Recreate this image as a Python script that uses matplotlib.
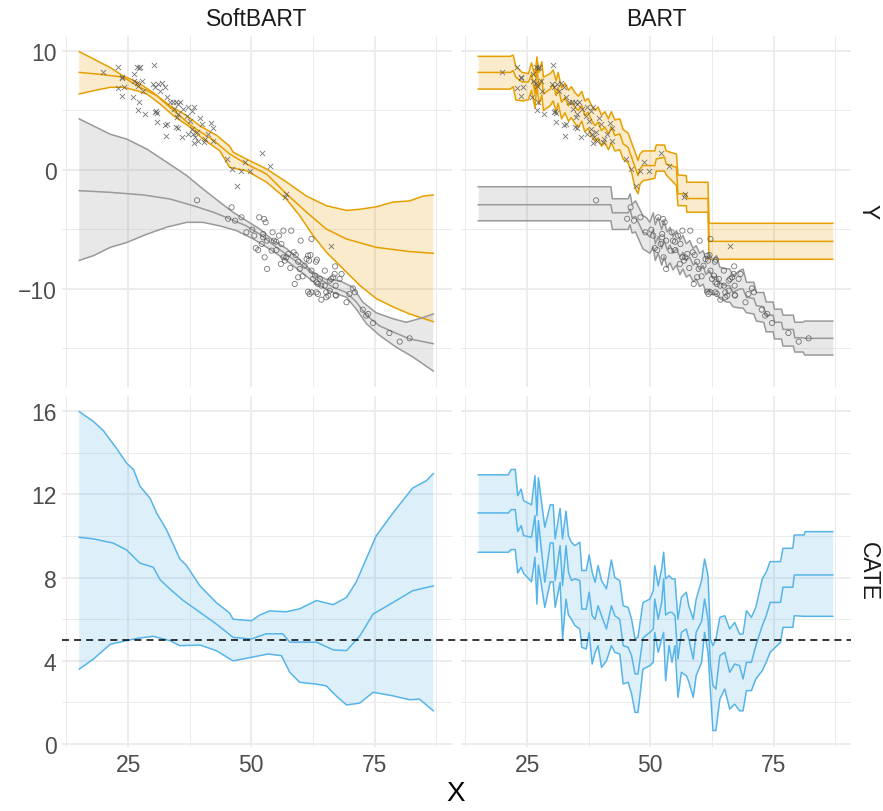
import matplotlib.pyplot as plt
from matplotlib.ticker import MultipleLocator
import numpy as np

plt.rcParams['font.family'] = ['Liberation Sans', 'DejaVu Sans']

# ---- observed outcomes ----
treat_x = [20.0, 22.9, 23.7, 23.85, 23.0, 24.1, 23.85, 26.3, 26.8, 27.2, 27.4, 26.3, 26.8, 27.1,
           27.8, 28.1, 26.1, 27.2, 27.1, 28.4, 30.3, 30.0, 30.5, 31.1, 31.8, 32.5, 31.5, 32.8,
           30.7, 30.5, 30.9, 30.8, 32.8, 32.5, 32.7, 33.5, 34.2, 34.7, 35.2, 35.5, 34.3, 35.2,
           34.9, 34.7, 35.2, 35.9, 37.2, 38.4, 37.9, 37.6, 37.2, 37.9, 38.2, 38.6, 39.6, 39.9,
           41.9, 42.3, 39.2, 38.4, 40.3, 40.6, 42.3, 41.3, 45.0, 46.0, 52.1, 53.7, 48.7, 48.0,
           49.7, 47.0, 36.9, 36.2, 38.9, 57.1, 56.8, 66.2]
treat_y = [8.21, 8.69, 7.84, 7.7, 6.86, 6.95, 6.25, 8.07, 8.69, 8.57, 8.63, 7.45, 7.28, 7.09,
           7.45, 6.67, 6.16, 5.69, 5.07, 4.71, 8.85, 7.23, 6.95, 7.23, 7.28, 6.95, 6.67, 6.11,
           4.99, 4.85, 4.76, 4.06, 3.87, 3.78, 2.89, 5.69, 5.69, 5.69, 5.55, 5.69, 5.13, 4.71,
           4.43, 3.59, 3.5, 2.75, 5.32, 5.32, 4.99, 4.15, 3.03, 3.45, 3.03, 2.75, 4.37, 3.87,
           3.95, 3.53, 2.47, 2.24, 2.33, 2.61, 2.47, 3.03, 0.93, 0.09, 1.4, 0.31, 0.65, -0.05,
           -0.05, -1.37, 4.57, 5.13, 3.17, -2.0, -2.3, -6.4]

ctrl_x = [39.0, 45.3, 46.0, 46.7, 48.0, 49.0, 50.2, 50.6, 50.9, 51.4, 51.6, 52.4, 52.6, 52.9,
          52.1, 52.7, 53.2, 52.4, 53.2, 54.1, 54.3, 54.6, 55.0, 55.1, 55.6, 56.1, 56.5, 56.5,
          56.0, 56.8, 57.1, 57.5, 57.9, 58.1, 58.6, 59.0, 59.5, 60.0, 59.8, 60.4, 60.8, 61.2,
          61.5, 61.7, 62.0, 62.2, 62.5, 62.9, 63.1, 63.3, 63.2, 63.5, 63.9, 64.2, 64.9, 64.9,
          65.2, 65.6, 65.9, 65.9, 66.2, 66.6, 66.9, 67.1, 67.2, 67.9, 68.3, 69.3, 69.9, 70.6,
          71.0, 72.6, 73.3, 73.7, 74.7, 61.5, 61.8, 62.2, 63.2, 63.5, 64.2, 65.2, 58.8, 59.5,
          62.2, 67.1, 78.0, 80.1, 82.1, 67.0]
ctrl_y = [-2.55, -4.1, -3.14, -4.26, -3.98, -5.24, -5.02, -5.52, -6.56, -6.73, -3.98, -5.66,
          -4.12, -4.4, -6.22, -7.34, -8.32, -5.38, -5.94, -6.78, -5.24, -5.94, -6.03, -6.73,
          -5.52, -6.22, -5.1, -7.34, -7.9, -7.62, -7.34, -7.06, -8.24, -5.1, -6.92, -7.15,
          -7.71, -5.94, -8.32, -8.94, -8.04, -7.48, -7.2, -7.62, -7.15, -8.46, -9.16, -8.88,
          -7.71, -7.54, -9.44, -9.58, -9.16, -9.72, -9.72, -8.46, -10.28, -10.56, -10.14, -9.3,
          -9.16, -9.02, -8.74, -9.72, -10.56, -9.16, -8.74, -11.12, -10.42, -9.95, -10.28,
          -11.74, -12.24, -12.1, -12.86, -10.23, -10.42, -10.28, -10.28, -10.42, -10.9, -10.7,
          -9.58, -9.02, -5.8, -10.5, -13.7, -14.43, -14.15, -8.1]

# ---- SoftBART fits ----
sb_t_hi_x = [15.1, 18, 21.4, 24, 26.8, 30.1, 33.5, 36.9, 39.6, 43, 45.6, 46.3, 49, 53.1, 57.1,
             61.2, 65.2, 69.3, 72, 75.3, 78.7, 82.1, 84.8, 86.9]
sb_t_hi = [9.94, 9.33, 8.6, 7.9, 7.4, 6.5, 5.4, 4.56, 3.7, 2.9, 2.0, 1.5, 0.92, 0.08, -1.0,
           -2.2, -3.0, -3.4, -3.3, -3.1, -2.7, -2.6, -2.2, -2.1]
sb_t_mid_x = [15.1, 19.3, 24, 27.4, 30.8, 34.2, 38.2, 42.3, 45.6, 49, 53.1, 57.1, 61.2, 65.2,
              69.3, 75.3, 82.1, 86.9]
sb_t_mid = [8.2, 8.04, 7.8, 6.95, 6.25, 5.0, 3.6, 2.5, 1.35, 0.5, -0.34, -2.0, -3.55, -4.96,
            -5.8, -6.5, -6.86, -7.0]
sb_t_lo_x = [15.1, 18, 21.4, 24, 26.8, 28.8, 31.5, 34.2, 37.6, 40.2, 43.6, 45.6, 49, 53.1,
             57.1, 59.8, 62.5, 65.2, 68.6, 72, 75.3, 78.7, 82.1, 86.9]
sb_t_lo = [6.39, 6.66, 6.95, 6.95, 6.66, 6.39, 5.55, 4.56, 3.59, 2.6, 1.62, 0.22, -0.06, -1.03,
           -2.44, -3.84, -5.5, -6.9, -8.3, -9.7, -10.8, -11.5, -12.1, -12.75]

sb_c_hi_x = [15.1, 18, 21.4, 24.7, 28.8, 32.9, 36.9, 40.2, 43.6, 46.3, 49, 51.7, 54.4, 57.1,
             59.8, 62.5, 65.2, 67.9, 70.6, 72.6, 75.3, 78.7, 81.4, 84.1, 86.9]
sb_c_hi = [4.29, 3.7, 3.0, 2.6, 1.76, 0.64, -0.47, -1.6, -2.7, -3.55, -4.26, -4.96, -5.9, -6.6,
           -7.5, -8.6, -9.2, -9.3, -9.86, -11.1, -12.0, -12.5, -12.8, -12.5, -12.1]
sb_c_mid_x = [15.1, 21.4, 28.1, 33.5, 38.2, 42.3, 45.6, 49, 51.7, 55.1, 58.5, 61.2, 63.9, 66.6,
              69.3, 71.3, 73.3, 76, 78.7, 82.1, 86.9]
sb_c_mid = [-1.74, -1.88, -2.1, -2.44, -3.0, -3.55, -4.1, -4.7, -5.4, -6.5, -7.5, -8.3, -9.16,
            -9.86, -10.3, -11.1, -12.2, -13.1, -13.6, -14.2, -14.6]
sb_c_lo_x = [15.1, 18, 21.4, 24.7, 28.8, 32.9, 36.9, 40.2, 43.6, 47, 50.4, 53.7, 57.1, 60.5,
             63.2, 66.6, 69.3, 71.3, 73.3, 76, 79.4, 82.7, 86.9]
sb_c_lo = [-7.6, -7.2, -6.5, -6.1, -5.4, -4.8, -4.4, -4.4, -4.7, -5.1, -5.8, -6.64, -7.6, -8.7,
           -9.6, -10.3, -10.7, -11.7, -12.9, -13.9, -14.9, -15.7, -16.9]

sb_cate_hi_x = [15.1, 18, 20, 22.7, 24.7, 26.1, 27.4, 29.5, 30.8, 32.8, 35.5, 36.8, 39.6, 42.9,
                45.6, 46.3, 50, 51.7, 53.7, 57.1, 59.8, 63.2, 66.6, 69.3, 71.3, 73.3, 75.3,
                78.7, 82.7, 85.5, 86.9]
sb_cate_hi = [15.98, 15.5, 15.06, 14.2, 13.5, 13.2, 12.4, 11.8, 11.1, 10.3, 8.9, 8.6, 7.6, 6.8,
              6.3, 6.0, 5.93, 6.2, 6.4, 6.36, 6.5, 6.9, 6.7, 7.05, 7.8, 8.9, 10.0, 11.1, 12.3,
              12.66, 13.0]
sb_cate_mid_x = [15.1, 18, 22, 24.7, 27.4, 30.1, 31.5, 33.5, 36.2, 39.6, 42.9, 46.3, 50, 53,
                 56.4, 57.8, 63.2, 66.6, 69.3, 72, 74.7, 78.7, 82.7, 86.9]
sb_cate_mid = [9.94, 9.86, 9.66, 9.33, 8.7, 8.5, 7.9, 7.45, 6.9, 6.33, 5.77, 5.13, 5.05, 5.3,
               5.3, 4.9, 4.9, 4.53, 4.49, 5.2, 6.25, 6.8, 7.37, 7.6]
sb_cate_lo_x = [15.1, 18, 21.4, 24.7, 26.8, 30.1, 33.5, 35.5, 39.6, 42.9, 46.3, 50, 53.4, 56.1,
                57.8, 59.8, 63.2, 65.2, 67.2, 69.3, 72, 74.7, 78.7, 82.1, 84.1, 86.9]
sb_cate_lo = [3.6, 4.09, 4.8, 4.97, 5.08, 5.18, 4.97, 4.73, 4.76, 4.49, 4.0, 4.17, 4.33, 4.25,
              3.45, 2.97, 2.88, 2.8, 2.32, 1.88, 1.97, 2.49, 2.32, 2.13, 2.16, 1.6]

# ---- BART fits ----
bt_x = [15.1, 21.6, 22.2, 22.7, 24.0, 25.3, 25.9, 26.6, 27.0, 27.4, 28.0, 28.3, 29.7, 30.3,
        30.9, 31.3, 32.0, 32.7, 33.4, 34.0, 34.7, 35.4, 36.1, 36.7, 37.4, 38.1, 38.8, 39.4,
        40.1, 40.8, 41.5, 42.1, 42.8, 43.8, 44.5, 45.5, 46.2, 46.9, 47.5, 47.9, 48.5, 50.9,
        51.2, 52.9, 53.2, 55.3, 55.6, 57.3, 57.4, 61.7, 61.9, 87.0]
bt_hi = [9.55, 9.55, 9.65, 8.7, 8.2, 8.1, 9.0, 7.9, 9.5, 8.2, 9.1, 7.8, 8.1, 8.4, 7.5, 8.2, 6.9,
         7.3, 6.7, 7.0, 6.5, 6.2, 6.6, 5.8, 6.0, 5.4, 5.0, 5.3, 4.6, 4.9, 4.3, 4.9, 4.2, 4.3,
         3.4, 3.1, 2.3, 1.5, 0.8, 1.34, 1.6, 1.6, 2.1, 2.1, 1.6, 1.34, -0.42, -0.48, -1.03,
         -1.03, -4.48, -4.48]
bt_mid = [8.2, 8.2, 8.35, 7.8, 7.4, 7.4, 8.07, 6.4, 8.6, 6.95, 7.65, 6.4, 6.8, 7.2, 6.25, 6.95,
          5.7, 6.1, 5.4, 5.7, 5.27, 5.0, 5.4, 4.57, 4.85, 4.15, 3.73, 4.0, 3.3, 3.6, 3.03, 3.6,
          2.9, 3.03, 2.19, 1.9, 1.07, 0.23, -0.47, 0.09, 0.37, 0.37, 0.93, 1.07, 0.5, 0.22,
          -2.0, -2.0, -2.4, -2.4, -6.0, -6.0]
bt_lo = [6.8, 6.8, 7.0, 5.9, 5.8, 5.9, 6.7, 5.2, 7.2, 5.5, 6.3, 5.0, 5.4, 5.8, 4.9, 5.6, 4.3,
         4.8, 4.1, 4.4, 3.9, 3.6, 4.1, 3.2, 3.5, 2.8, 2.4, 2.7, 2.0, 2.3, 1.7, 2.3, 1.6, 1.7,
         0.9, 0.6, -0.2, -1.5, -2.0, -1.2, -0.9, -0.7, -0.1, -0.1, -0.4, -1.3, -3.0, -3.0,
         -3.55, -3.55, -7.5, -7.5]

bc_x = [15.1, 42.0, 42.3, 45.5, 45.9, 46.3, 47.0, 48.5, 49.2, 49.9, 50.6, 51.0, 51.6, 52.3,
        52.8, 53.4, 54.0, 54.6, 55.3, 56.0, 56.6, 57.3, 58.0, 58.7, 59.3, 60.0, 60.7, 61.3,
        62.0, 62.7, 63.4, 64.1, 65.4, 66.1, 66.8, 68.1, 68.8, 69.5, 71.0, 71.5, 73.0, 73.5,
        74.9, 75.2, 76.6, 76.9, 79.0, 79.3, 81.0, 81.3, 87.0]
bc_hi = [-1.41, -1.41, -2.42, -2.42, -2.0, -2.9, -2.6, -3.84, -4.0, -4.4, -3.6, -4.6, -4.0,
         -5.0, -4.3, -5.2, -4.82, -5.6, -5.1, -5.9, -5.5, -6.2, -5.94, -6.6, -6.36, -7.0,
         -6.78, -7.5, -7.06, -7.62, -7.2, -8.18, -8.3, -8.32, -8.88, -8.46, -8.32, -9.44,
         -9.44, -10.3, -10.3, -11.1, -11.1, -11.7, -11.7, -12.2, -12.2, -12.8, -12.8, -12.7,
         -12.7]
bc_mid = [-2.92, -2.92, -3.6, -3.6, -3.3, -4.0, -3.9, -5.24, -5.3, -5.66, -5.0, -6.2, -5.6,
          -6.6, -5.9, -6.7, -6.3, -7.0, -6.6, -7.3, -6.92, -7.6, -7.34, -8.0, -7.76, -8.4,
          -8.04, -8.8, -8.46, -9.1, -8.9, -9.5, -9.72, -9.72, -10.28, -10.0, -10.0, -10.7,
          -10.8, -11.4, -11.5, -12.2, -12.2, -12.8, -12.8, -13.4, -13.4, -14.1, -14.1, -14.15,
          -14.15]
bc_lo = [-4.27, -4.27, -5.0, -5.0, -4.6, -5.3, -5.2, -6.64, -6.8, -7.0, -6.5, -7.6, -7.0, -8.0,
         -7.3, -8.2, -7.8, -8.4, -8.0, -8.8, -8.32, -9.0, -8.8, -9.4, -9.16, -9.8, -9.6, -10.3,
         -10.0, -10.5, -10.4, -10.8, -11.1, -11.1, -11.5, -11.6, -11.6, -12.0, -12.1, -12.7,
         -12.8, -13.6, -13.6, -14.2, -14.2, -14.8, -14.8, -15.3, -15.3, -15.55, -15.55]

bcate_x = [15.1, 21.2, 21.8, 22.6, 23.1, 23.8, 24.3, 25.9, 26.6, 27.0, 27.3, 28.6, 29.7, 30.3,
           30.7, 31.7, 32.2, 32.9, 33.4, 34.0, 34.7, 35.7, 36.1, 37.0, 37.6, 38.2, 38.8, 39.4,
           40.1, 41.1, 42.1, 42.8, 43.8, 44.5, 45.5, 46.2, 46.9, 47.5, 48.5, 49.9, 50.6, 50.9,
           51.6, 52.3, 52.7, 53.1, 53.8, 54.4, 55.0, 55.6, 56.3, 57.3, 57.8, 58.7, 59.3, 60.4,
           61.0, 61.7, 62.2, 62.7, 63.3, 64.1, 65.1, 66.1, 67.1, 68.1, 68.8, 69.5, 70.5, 71.4,
           72.7, 73.5, 74.3, 76.4, 76.9, 78.9, 79.2, 81.2, 81.4, 87.0]
bcate_hi = [12.94, 12.94, 13.2, 13.2, 11.94, 12.26, 11.7, 11.5, 12.9, 10.98, 12.8, 10.42, 11.5,
            11.5, 9.86, 11.33, 9.86, 11.2, 10.0, 9.7, 9.54, 9.7, 8.34, 8.34, 9.09, 8.26, 7.78,
            8.58, 7.86, 7.46, 8.85, 8.0, 7.86, 6.65, 6.57, 6.0, 5.05, 5.13, 6.8, 6.97, 7.38,
            8.58, 7.6, 8.42, 9.22, 7.94, 8.1, 7.94, 7.94, 6.0, 7.05, 7.3, 6.65, 6.0, 6.97, 7.86,
            8.9, 8.1, 5.05, 4.73, 5.05, 6.09, 6.17, 5.53, 5.85, 5.29, 5.29, 6.41, 6.09, 6.57,
            7.94, 8.26, 8.77, 8.77, 9.41, 9.41, 10.05, 10.05, 10.21, 10.21]
bcate_mid = [11.11, 11.11, 11.27, 11.27, 10.21, 10.5, 10.02, 9.94, 10.98, 9.22, 10.74, 7.78,
             9.67, 9.67, 7.86, 9.54, 7.62, 9.54, 8.26, 7.86, 7.94, 7.86, 6.49, 6.49, 7.3, 6.17,
             6.0, 6.65, 6.17, 5.53, 6.65, 6.17, 6.0, 4.73, 4.65, 4.25, 3.37, 3.37, 5.1, 5.37,
             5.53, 6.97, 6.0, 6.81, 7.94, 6.2, 6.33, 6.33, 6.17, 4.09, 5.37, 5.53, 5.05, 4.09,
             5.37, 5.9, 6.97, 6.0, 3.8, 2.81, 2.65, 4.25, 4.41, 3.45, 3.85, 3.77, 3.13, 3.93,
             3.93, 4.73, 5.69, 6.17, 6.81, 6.81, 7.54, 7.54, 8.13, 8.13, 8.13, 8.13]
bcate_lo = [9.22, 9.22, 9.35, 9.35, 8.22, 8.5, 8.2, 7.8, 8.98, 6.73, 8.6, 6.57, 7.8, 7.8, 6.57,
            7.77, 5.05, 6.97, 6.2, 6.0, 5.7, 5.53, 4.65, 4.57, 5.37, 3.85, 4.4, 4.73, 3.69, 4.0,
            4.73, 4.41, 4.33, 2.89, 2.97, 2.41, 1.52, 1.52, 3.6, 3.77, 3.93, 5.37, 4.41, 5.05,
            5.37, 3.05, 4.73, 3.93, 4.73, 2.25, 3.45, 3.29, 3.0, 2.25, 3.29, 3.93, 5.37, 4.41,
            2.49, 0.65, 0.65, 2.17, 2.65, 1.68, 1.92, 1.6, 1.6, 2.57, 2.57, 3.13, 3.53, 3.93,
            4.41, 4.89, 5.61, 5.61, 6.17, 6.14, 6.14, 6.14]

true_cate = 5

orange = '#E69F00'
grey = '#999999'
blue = '#56B4E9'
pt_col = '#555555'

W, H = 883, 812
fig = plt.figure(figsize=(W / 100, H / 100), dpi=100)


def frac_box(x0, y0, x1, y1):
    return [x0 / W, 1 - y1 / H, (x1 - x0) / W, (y1 - y0) / H]


ax_tl = fig.add_axes(frac_box(62, 37, 452, 388))
ax_tr = fig.add_axes(frac_box(461, 37, 851, 388))
ax_bl = fig.add_axes(frac_box(62, 397, 452, 748))
ax_br = fig.add_axes(frac_box(461, 397, 851, 748))


def band(ax, xh, yh, xl, yl, col, alpha=0.2):
    xs = np.concatenate([xh, xl[::-1]])
    ys = np.concatenate([yh, yl[::-1]])
    ax.fill(xs, ys, color=col, alpha=alpha, lw=0, zorder=2)


def style(ax, ylim, major, minor, left_labels, bottom_labels):
    ax.set_xlim(11.6, 90.7)
    ax.set_ylim(*ylim)
    ax.xaxis.set_major_locator(MultipleLocator(25))
    ax.xaxis.set_minor_locator(MultipleLocator(12.5))
    ax.yaxis.set_major_locator(MultipleLocator(major))
    ax.yaxis.set_minor_locator(MultipleLocator(minor))
    ax.grid(which='major', color='#EBEBEB', lw=1.3, zorder=0)
    ax.grid(which='minor', color='#EBEBEB', lw=0.7, zorder=0)
    ax.set_axisbelow(True)
    for s in ax.spines.values():
        s.set_visible(False)
    ax.tick_params(which='both', length=0, labelsize=16.5, labelcolor='#4D4D4D', pad=4)
    ax.tick_params(labelleft=left_labels, labelbottom=bottom_labels)


# top row: outcome fits
for ax in (ax_tl, ax_tr):
    ax.scatter(treat_x, treat_y, marker='x', s=14, color=pt_col, lw=0.6, alpha=0.8, zorder=5)
    ax.scatter(ctrl_x, ctrl_y, marker='o', s=14, facecolors='none', edgecolors=pt_col,
               lw=0.6, alpha=0.8, zorder=5)

band(ax_tl, np.array(sb_t_hi_x), np.array(sb_t_hi), np.array(sb_t_lo_x), np.array(sb_t_lo), orange)
band(ax_tl, np.array(sb_c_hi_x), np.array(sb_c_hi), np.array(sb_c_lo_x), np.array(sb_c_lo), grey, 0.22)
for xs, ys in [(sb_t_hi_x, sb_t_hi), (sb_t_mid_x, sb_t_mid), (sb_t_lo_x, sb_t_lo)]:
    ax_tl.plot(xs, ys, color=orange, lw=1.1, zorder=3)
for xs, ys in [(sb_c_hi_x, sb_c_hi), (sb_c_mid_x, sb_c_mid), (sb_c_lo_x, sb_c_lo)]:
    ax_tl.plot(xs, ys, color=grey, lw=1.1, zorder=3)

ax_tr.fill_between(bt_x, bt_lo, bt_hi, color=orange, alpha=0.2, lw=0, zorder=2)
ax_tr.fill_between(bc_x, bc_lo, bc_hi, color=grey, alpha=0.22, lw=0, zorder=2)
for ys in (bt_hi, bt_mid, bt_lo):
    ax_tr.plot(bt_x, ys, color=orange, lw=1.1, zorder=3)
for ys in (bc_hi, bc_mid, bc_lo):
    ax_tr.plot(bc_x, ys, color=grey, lw=1.1, zorder=3)

# bottom row: treatment effect
band(ax_bl, np.array(sb_cate_hi_x), np.array(sb_cate_hi), np.array(sb_cate_lo_x),
     np.array(sb_cate_lo), blue)
for xs, ys in [(sb_cate_hi_x, sb_cate_hi), (sb_cate_mid_x, sb_cate_mid), (sb_cate_lo_x, sb_cate_lo)]:
    ax_bl.plot(xs, ys, color=blue, lw=1.1, zorder=3)

ax_br.fill_between(bcate_x, bcate_lo, bcate_hi, color=blue, alpha=0.2, lw=0, zorder=2)
for ys in (bcate_hi, bcate_mid, bcate_lo):
    ax_br.plot(bcate_x, ys, color=blue, lw=1.1, zorder=3)

# true effect, drawn from the right panel so it runs on over the left one too
ax_br.axhline(true_cate, xmin=(62 - 461) / 390, xmax=1, color='black', lw=1.1,
              dashes=(4.6, 3.3), zorder=4, clip_on=False)

style(ax_tl, (-18.24, 11.26), 10, 5, True, False)
style(ax_tr, (-18.24, 11.26), 10, 5, False, False)
style(ax_bl, (-0.14, 16.73), 4, 2, True, True)
style(ax_br, (-0.14, 16.73), 4, 2, False, True)

# facet strips
fig.text(257 / W, 1 - 20 / H, 'SoftBART', ha='center', va='center', fontsize=16.5, color='#1A1A1A')
fig.text(656 / W, 1 - 20 / H, 'BART', ha='center', va='center', fontsize=16.5, color='#1A1A1A')
fig.text(868 / W, 1 - 212 / H, 'Y', ha='center', va='center', rotation=-90, fontsize=16.5,
         color='#1A1A1A')
fig.text(868 / W, 1 - 572 / H, 'CATE', ha='center', va='center', rotation=-90, fontsize=16.5,
         color='#1A1A1A')
fig.text(456 / W, 1 - 794 / H, 'X', ha='center', va='center', fontsize=20, color='black')

fig.savefig('out.png', dpi=100)
